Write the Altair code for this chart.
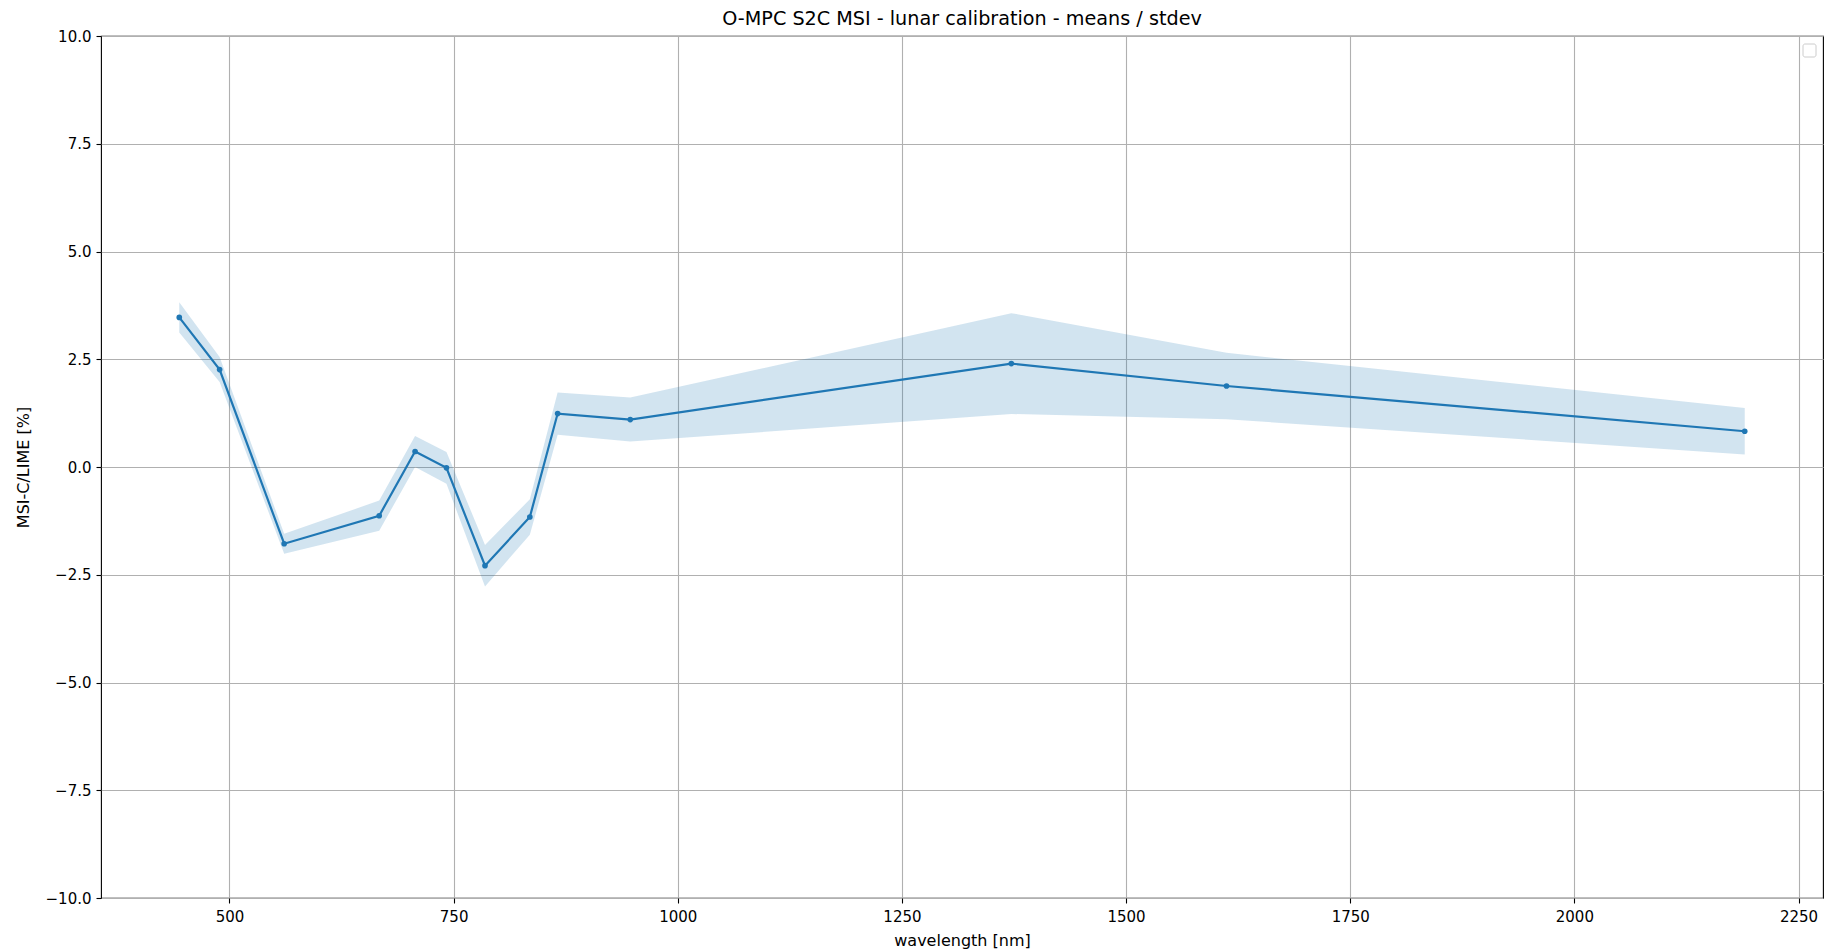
import altair as alt
import pandas as pd

# Band centre wavelengths [nm], mean MSI-C/LIME ratio deviation [%] and its stdev
wavelength = [444, 489, 561, 667, 707, 742, 785, 835, 866, 947, 1372, 1612, 2190]
mean_pct = [3.47, 2.26, -1.78, -1.13, 0.36, -0.02, -2.29, -1.16, 1.24, 1.10, 2.40, 1.88, 0.83]
stdev_pct = [0.35, 0.29, 0.23, 0.35, 0.36, 0.37, 0.48, 0.41, 0.49, 0.51, 1.17, 0.77, 0.54]

x_ticks = [500, 750, 1000, 1250, 1500, 1750, 2000, 2250]
y_ticks = [-10.0, -7.5, -5.0, -2.5, 0.0, 2.5, 5.0, 7.5, 10.0]

df = pd.DataFrame({"wl": wavelength, "mean": mean_pct, "std": stdev_pct})
df["lo"] = df["mean"] - df["std"]
df["hi"] = df["mean"] + df["std"]

# 5% margin on each side of the wavelength range
span = max(wavelength) - min(wavelength)
x_dom = [min(wavelength) - 0.05 * span, max(wavelength) + 0.05 * span]

BLUE = "#1f77b4"
FONT = "DejaVu Sans"

x_enc = alt.X(
    "wl:Q",
    scale=alt.Scale(domain=x_dom, nice=False, zero=False),
    axis=alt.Axis(values=x_ticks, title="wavelength [nm]", format="d"),
)
y_scale = alt.Scale(domain=[-10, 10], nice=False)
y_axis = alt.Axis(values=y_ticks, title="MSI-C/LIME [%]", format=".1f")

base = alt.Chart(df)

band = base.mark_area(color=BLUE, opacity=0.2).encode(
    x=x_enc,
    y=alt.Y("lo:Q", scale=y_scale, axis=y_axis),
    y2="hi:Q",
)

line = base.mark_line(color=BLUE, strokeWidth=2.2).encode(
    x=x_enc, y=alt.Y("mean:Q", scale=y_scale, axis=y_axis)
)

dots = base.mark_circle(color=BLUE, size=32, opacity=1).encode(
    x=x_enc, y=alt.Y("mean:Q", scale=y_scale, axis=y_axis)
)

# empty legend frame in the upper right corner
legend_box = alt.Chart(pd.DataFrame({"k": [0]})).mark_rect(
    fill="white", stroke="#cccccc", strokeWidth=1, cornerRadius=2
).encode(
    x=alt.value(1702), x2=alt.value(1715), y=alt.value(8), y2=alt.value(21)
)

chart = (
    alt.layer(band, line, dots, legend_box)
    .properties(
        width=1722,
        height=862,
        padding={"left": 101, "top": 36, "right": 1, "bottom": 52},
        autosize=alt.AutoSizeParams(type="none"),
        title=alt.TitleParams(
            "O-MPC S2C MSI - lunar calibration - means / stdev",
            font=FONT,
            fontSize=19.2,
            fontWeight="normal",
            color="black",
            anchor="middle",
            frame="group",
            baseline="alphabetic",
            offset=9,
            dy=24,
        ),
    )
    .configure_view(stroke="black", strokeWidth=1.1)
    .configure_axis(
        domain=False,
        grid=True,
        gridColor="#b0b0b0",
        gridWidth=1.1,
        ticks=True,
        tickColor="black",
        tickWidth=1.1,
        tickSize=5,
        labelFont=FONT,
        labelFontSize=15,
        labelColor="black",
        titleFont=FONT,
        titleFontSize=16,
        titleFontWeight="normal",
        titleColor="black",
    )
    .configure_axisX(labelPadding=6, titlePadding=8, labelFlush=False)
    .configure_axisY(labelPadding=5, titlePadding=14, labelFlush=False)
)

chart.save("out.html", embed_options={"renderer": "svg", "actions": False})
